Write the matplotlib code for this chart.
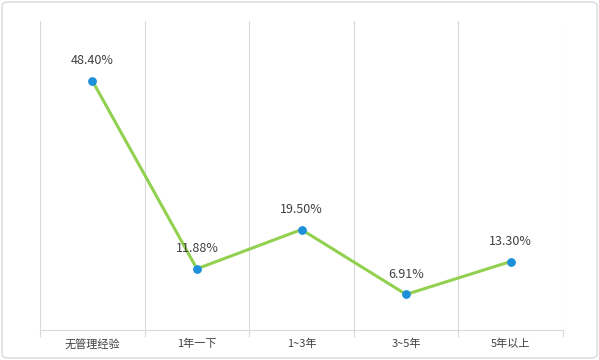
import matplotlib.pyplot as plt
from matplotlib.patches import FancyBboxPatch

plt.rcParams['font.family'] = ['Noto Sans CJK SC', 'DejaVu Sans']

# data
categories = ['无管理经验', '1年一下', '1~3年', '3~5年', '5年以上']
values = [48.40, 11.88, 19.50, 6.91, 13.30]
labels = ['48.40%', '11.88%', '19.50%', '6.91%', '13.30%']

fig = plt.figure(figsize=(5.99, 3.6), dpi=100)
ax = fig.add_axes([40 / 599, 30 / 360, 523 / 599, 309 / 360])

x = list(range(len(categories)))
ax.plot(x, values, color='#92D050', linewidth=2.2, zorder=3)
ax.scatter(x, values, s=28, color='#1E90DB', zorder=4)

for xi, v, lab in zip(x, values, labels):
    ax.annotate(lab, (xi, v), xytext=(0, 10), textcoords='offset points',
                ha='center', va='bottom', fontsize=9, color='#404040')

ax.set_xlim(-0.5, len(categories) - 0.5)
ax.set_ylim(0, 60)
ax.set_yticks([])
ax.set_xticks(x)
ax.set_xticklabels(categories, fontsize=8, color='#404040')
ax.tick_params(axis='x', which='major', length=0, pad=6)

bounds = [i - 0.5 for i in range(len(categories) + 1)]
ax.set_xticks(bounds, minor=True)
ax.tick_params(axis='x', which='minor', length=5, color='#d9d9d9', width=0.8)
ax.grid(True, axis='x', which='minor', color='#d9d9d9', linewidth=0.8)

for s in ['top', 'right', 'left']:
    ax.spines[s].set_visible(False)
ax.spines['bottom'].set_color('#d9d9d9')
ax.spines['bottom'].set_linewidth(0.8)

# outer rounded border
border = FancyBboxPatch((2 / 599, 2 / 360), 595 / 599, 356 / 360,
                        boxstyle='round,pad=0,rounding_size=0.01',
                        transform=fig.transFigure, fill=False,
                        edgecolor='#d9d9d9', linewidth=1)
fig.patches.append(border)

fig.savefig('out.png', dpi=100)
